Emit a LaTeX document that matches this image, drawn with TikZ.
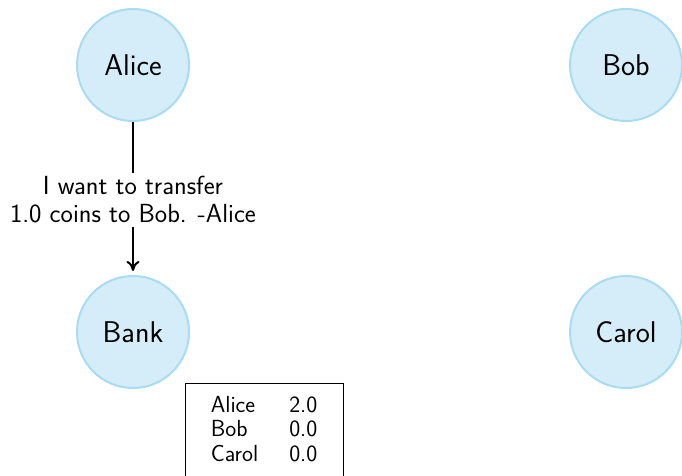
\documentclass[tikz,border=0pt]{standalone}
\usetikzlibrary{arrows.meta}
\definecolor{nodefill}{HTML}{D5EDF9}
\definecolor{nodeborder}{HTML}{A8DCF3}
\begin{document}
\begin{tikzpicture}[x=1pt,y=1pt,
  party/.style={circle, draw=nodeborder, fill=nodefill, line width=2pt,
    minimum size=112pt, inner sep=0pt, font=\sffamily\fontsize{30}{34}\selectfont},
  msg/.style={fill=white, align=center, inner xsep=2pt, inner ysep=4pt,
    font=\sffamily\fontsize{26.2}{28}\selectfont},
  ledger/.style={draw=black, line width=1pt, minimum width=158pt, minimum height=97pt,
    inner sep=0pt, font=\sffamily\fontsize{23.3}{24.6}\selectfont},
  flow/.style={line width=2pt, shorten >=4pt, -{To[length=10pt,width=13pt]}}]
\useasboundingbox (0,0) rectangle (682,-476);
\node[party] (alice) at (133,-65) {Alice};
\node[party] (bob) at (626,-65) {Bob};
\node[party] (bank) at (133,-332) {Bank};
\node[party] (carol) at (626,-332) {Carol};
\draw[flow] (alice) -- node[msg, yshift=-1.5pt] (m) {I want to transfer\\1.0 coins to Bob. -Alice} (bank);
\node[ledger, anchor=north] (tab) at (264,-383) {\begin{tabular}{@{}l@{\hspace{31pt}}l@{}}
Alice & 2.0\\ Bob & 0.0\\ Carol & 0.0\end{tabular}};
\end{tikzpicture}
\end{document}
